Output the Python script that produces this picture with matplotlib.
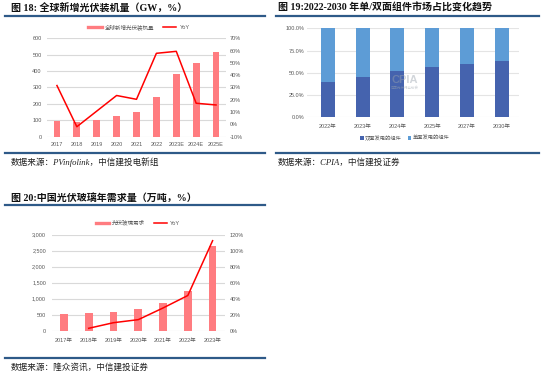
import matplotlib
matplotlib.use('Agg')
import matplotlib.pyplot as plt
from matplotlib.lines import Line2D
from matplotlib.ticker import FuncFormatter

plt.rcParams['font.family'] = ['Liberation Sans', 'Noto Sans CJK SC']

W, H = 550, 379

# 图18 全球新增光伏装机量
years18 = ['2017', '2018', '2019', '2020', '2021', '2022', '2023E', '2024E', '2025E']
install_gw = [96, 92, 99, 126, 150, 240, 382, 449, 518]
yoy18 = [31.6, -1.9, 10.8, 23.5, 20.4, 57.8, 59.4, 17.2, 15.8]

# 图19 单/双面组件占比
years19 = ['2022年', '2023年', '2024年', '2025年', '2027年', '2030年']
bifacial = [40.0, 45.3, 52.4, 56.9, 59.9, 63.6]
mono = [100 - v for v in bifacial]

# 图20 中国光伏玻璃需求
years20 = ['2017年', '2018年', '2019年', '2020年', '2021年', '2022年', '2023年']
glass = [522, 543, 594, 678, 866, 1250, 2656]
yoy20 = [3.0, 10.0, 13.8, 28.4, 44.0, 112.5]  # 从2018年开始

BAR_RED = '#ff7c80'
LINE_RED = '#ff0000'
GRID = '#d9d9d9'
TICK = '#595959'
RULE = '#2e5a88'
DARK_BLUE = '#4563ae'
LIGHT_BLUE = '#5d9cd6'

title_font = dict(family=['Liberation Serif', 'Noto Sans CJK SC'], weight='bold', size=7.2, color='#111111')
src_font = dict(family=['Liberation Serif', 'Noto Sans CJK SC'], style='italic', size=6.2, color='#222222')


def rect(x0, y0, x1, y1):
    return [x0 / W, 1 - y1 / H, (x1 - x0) / W, (y1 - y0) / H]


def fx(x):
    return x / W


def fy(y):
    return 1 - y / H


def rule(fig, x0, x1, y):
    fig.add_artist(Line2D([fx(x0), fx(x1)], [fy(y), fy(y)], transform=fig.transFigure,
                          color=RULE, lw=1.6))


def clean(ax):
    for s in ax.spines.values():
        s.set_visible(False)
    ax.tick_params(length=0, labelsize=4, labelcolor=TICK)


fig = plt.figure(figsize=(5.5, 3.79), dpi=100)

# ---------- 图18 ----------
fig.text(fx(11), fy(7.5), '图 18: 全球新增光伏装机量（GW，%）', va='center', **title_font)
rule(fig, 5, 265, 16)
ax1 = fig.add_axes(rect(47, 38.3, 226, 136.7))
x18 = range(len(years18))
ax1.bar(x18, install_gw, width=0.34, color=BAR_RED, zorder=2)
ax1.set_ylim(0, 600)
ax1.set_yticks(range(0, 601, 100))
ax1.set_xlim(-0.5, 8.5)
ax1.set_xticks(list(x18))
ax1.set_xticklabels(years18)
ax1.grid(axis='y', color=GRID, lw=0.8)
ax1.set_axisbelow(True)
clean(ax1)
ax1.tick_params(axis='y', pad=3.8)
ax1.tick_params(axis='x', pad=3.6)
ax1b = ax1.twinx()
ax1b.plot(list(x18), yoy18, color=LINE_RED, lw=1.1)
ax1b.set_ylim(-10, 70)
ax1b.set_yticks(range(-10, 71, 10))
ax1b.yaxis.set_major_formatter(FuncFormatter(lambda v, p: f'{v:.0f}%'))
clean(ax1b)
ax1b.tick_params(axis='y', pad=2.9)
ax1.legend([Line2D([], [], color=BAR_RED, lw=2.4), Line2D([], [], color=LINE_RED, lw=1.1)],
           ['全球新增光伏装机量', 'YoY'], loc='center', ncol=2, frameon=False,
           bbox_to_anchor=(fx(139), fy(27)), bbox_transform=fig.transFigure,
           fontsize=4, labelcolor=TICK, handlelength=2.4,
           columnspacing=1.5, handletextpad=0.6)
rule(fig, 5, 265, 152.5)
fig.text(fx(11), fy(162.5), '数据来源：PVinfolink，中信建投电新组', va='center', **src_font)

# ---------- 图19 ----------
fig.text(fx(278), fy(7.5), '图 19:2022-2030 年单/双面组件市场占比变化趋势', va='center', **title_font)
rule(fig, 276, 539, 16)
ax2 = fig.add_axes(rect(307, 28.3, 519, 117.3))
x19 = range(len(years19))
ax2.bar(x19, bifacial, width=0.4, color=DARK_BLUE, zorder=2, label='双面发电的组件')
ax2.bar(x19, mono, width=0.4, bottom=bifacial, color=LIGHT_BLUE, zorder=2, label='单面发电的组件')
ax2.set_ylim(0, 100)
ax2.set_yticks(range(0, 101, 25))
ax2.yaxis.set_major_formatter(FuncFormatter(lambda v, p: f'{v:.1f}%'))
ax2.set_xlim(-0.6, 5.5)
ax2.set_xticks(list(x19))
ax2.set_xticklabels(years19)
ax2.grid(axis='y', color='#e4e4e4', lw=0.8)
ax2.set_axisbelow(True)
clean(ax2)
ax2.tick_params(axis='y', pad=2)
ax2.tick_params(axis='x', pad=4.8)
ax2.text(0.46, 0.42, 'CPIA', transform=ax2.transAxes, ha='center', va='center',
         fontsize=8, weight='bold', color='#9aa3ad', alpha=0.45, zorder=3)
ax2.text(0.46, 0.33, '中国光伏行业协会', transform=ax2.transAxes, ha='center', va='center',
         fontsize=2.5, color='#9aa3ad', alpha=0.5, zorder=3)
ax2.legend(loc='center', ncol=2, frameon=False,
           bbox_to_anchor=(fx(405), fy(138)), bbox_transform=fig.transFigure,
           fontsize=3.8, labelcolor=TICK, handlelength=0.6, handleheight=0.6,
           columnspacing=1.2, handletextpad=0.3)
rule(fig, 276, 539, 152.5)
fig.text(fx(278), fy(162.5), '数据来源：CPIA，中信建投证券', va='center', **src_font)

# ---------- 图20 ----------
fig.text(fx(11), fy(197.5), '图 20:中国光伏玻璃年需求量（万吨，%）', va='center', **title_font)
rule(fig, 5, 265, 204.5)
ax3 = fig.add_axes(rect(52, 234.7, 225, 330.7))
x20 = list(range(len(years20)))
ax3.bar(x20, glass, width=0.31, color=BAR_RED, zorder=2)
ax3.set_ylim(0, 3000)
ax3.set_yticks(range(0, 3001, 500))
ax3.yaxis.set_major_formatter(FuncFormatter(lambda v, p: f'{v:,.0f}'))
ax3.set_xlim(-0.48, 6.5)
ax3.set_xticks(x20)
ax3.set_xticklabels(years20)
ax3.grid(axis='y', color=GRID, lw=0.8)
ax3.set_axisbelow(True)
clean(ax3)
ax3.tick_params(axis='y', pad=4.3)
ax3.tick_params(axis='x', pad=5)
ax3b = ax3.twinx()
ax3b.plot(x20[1:], yoy20, color=LINE_RED, lw=1.1)
ax3b.set_ylim(0, 120)
ax3b.set_yticks(range(0, 121, 20))
ax3b.yaxis.set_major_formatter(FuncFormatter(lambda v, p: f'{v:.0f}%'))
clean(ax3b)
ax3b.tick_params(axis='y', pad=3.6)
ax3.legend([Line2D([], [], color=BAR_RED, lw=2.4), Line2D([], [], color=LINE_RED, lw=1.1)],
           ['光伏玻璃需求', 'YoY'], loc='center', ncol=2, frameon=False,
           bbox_to_anchor=(fx(138), fy(223)), bbox_transform=fig.transFigure,
           fontsize=4, labelcolor=TICK, handlelength=2.4,
           columnspacing=1.5, handletextpad=0.6)
rule(fig, 5, 265, 358.3)
fig.text(fx(11), fy(367), '数据来源：隆众资讯，中信建投证券', va='center', **src_font)

fig.savefig('out.png', dpi=100)
